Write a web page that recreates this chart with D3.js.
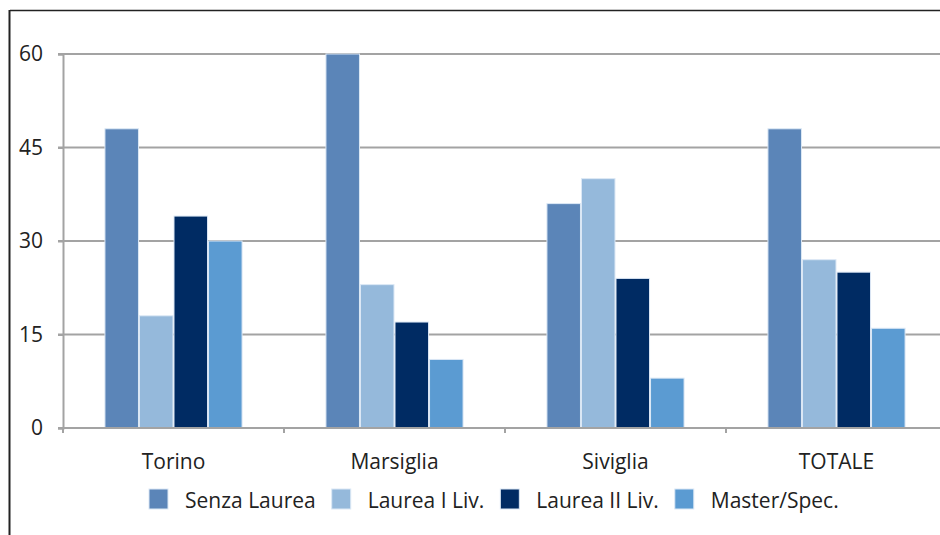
<!DOCTYPE html>
<html>
<head>
<meta charset="utf-8">
<script src="https://cdn.jsdelivr.net/npm/d3@7"></script>
<style>
  html, body { margin: 0; padding: 0; background: #fff; }
  svg { display: block; font-family: "Open Sans", "Noto Sans", sans-serif; }
</style>
</head>
<body>
<svg id="chart" width="940" height="535"></svg>
<script>
// Categories (cities) and the four education-level series
const categories = ["Torino", "Marsiglia", "Siviglia", "TOTALE"];
const seriesNames = ["Senza Laurea", "Laurea I Liv.", "Laurea II Liv.", "Master/Spec."];
const senzaLaurea = [48, 60, 36, 48];
const laureaI = [18, 23, 40, 27];
const laureaII = [34, 17, 24, 25];
const master = [30, 11, 8, 16];
const yTicks = [0, 15, 30, 45, 60];
const colors = ["#5b85b8", "#95b9db", "#002b63", "#5b9bd2"];

const seriesValues = [senzaLaurea, laureaI, laureaII, master];

const svg = d3.select("#chart");
const W = 940, H = 535;
const plot = { left: 63, right: 947, top: 54, bottom: 428 };
const FS = 21;

// Outer frame (top and left edges visible)
svg.append("line").attr("x1", 10).attr("x2", W).attr("y1", 10.5).attr("y2", 10.5)
  .attr("stroke", "#222").attr("stroke-width", 1.5);
svg.append("line").attr("x1", 9.5).attr("x2", 9.5).attr("y1", 10).attr("y2", H)
  .attr("stroke", "#222").attr("stroke-width", 2);

const x0 = d3.scaleBand().domain(categories)
  .range([plot.left, plot.right]).paddingInner(0.375).paddingOuter(0.1875);
const x1 = d3.scaleBand().domain(seriesNames).range([0, x0.bandwidth()]).padding(0);
const y = d3.scaleLinear().domain([0, 60]).range([plot.bottom, plot.top]);

// Horizontal gridlines
svg.append("g").selectAll("line").data(yTicks.filter(d => d > 0)).join("line")
  .attr("x1", plot.left - 5).attr("x2", W)
  .attr("y1", d => y(d)).attr("y2", d => y(d))
  .attr("stroke", "#a3a3a3").attr("stroke-width", 2);

// Y axis
const yAxis = svg.append("g").attr("transform", `translate(${plot.left},0)`)
  .call(d3.axisLeft(y).tickValues(yTicks).tickSize(5).tickPadding(15));
yAxis.select(".domain").attr("stroke", "#a3a3a3").attr("stroke-width", 2);
yAxis.selectAll(".tick line").attr("stroke", "#a3a3a3").attr("stroke-width", 2);
yAxis.selectAll("text").attr("font-size", FS).attr("fill", "#222")
  .attr("font-family", "\"Open Sans\", sans-serif");

// Bars
const groups = svg.append("g").selectAll("g").data(categories).join("g")
  .attr("transform", c => `translate(${x0(c)},0)`);
groups.selectAll("rect")
  .data((c, ci) => seriesNames.map((s, si) => ({ s, si, v: seriesValues[si][ci] })))
  .join("rect")
  .attr("x", d => x1(d.s) + 0.5)
  .attr("width", x1.bandwidth() - 1)
  .attr("y", d => y(d.v))
  .attr("height", d => y(0) - y(d.v))
  .attr("fill", d => colors[d.si])
  .attr("stroke", "#dce8f5").attr("stroke-width", 1);

// X axis with ticks at category boundaries
const xg = svg.append("g");
xg.append("line").attr("x1", plot.left - 5).attr("x2", W)
  .attr("y1", plot.bottom).attr("y2", plot.bottom)
  .attr("stroke", "#a3a3a3").attr("stroke-width", 2);
const step = x0.step();
xg.selectAll(".bt").data(d3.range(categories.length + 1)).join("line")
  .attr("class", "bt")
  .attr("x1", i => plot.left + i * step).attr("x2", i => plot.left + i * step)
  .attr("y1", plot.bottom).attr("y2", plot.bottom + 5)
  .attr("stroke", "#a3a3a3").attr("stroke-width", 2);
xg.selectAll("text").data(categories).join("text")
  .attr("x", c => x0(c) + x0.bandwidth() / 2)
  .attr("y", 469)
  .attr("text-anchor", "middle")
  .attr("font-size", FS).attr("fill", "#222")
  .text(c => c);

// Legend
const legend = svg.append("g");
let lx = 149;
seriesNames.forEach((name, i) => {
  legend.append("rect").attr("x", lx).attr("y", 489).attr("width", 19).attr("height", 20)
    .attr("fill", colors[i]).attr("stroke", "#dce8f5").attr("stroke-width", 1);
  const t = legend.append("text").attr("x", lx + 36).attr("y", 508)
    .attr("font-size", FS).attr("fill", "#222").text(name);
  lx += 36 + t.node().getComputedTextLength() + 16;
});
</script>
</body>
</html>
